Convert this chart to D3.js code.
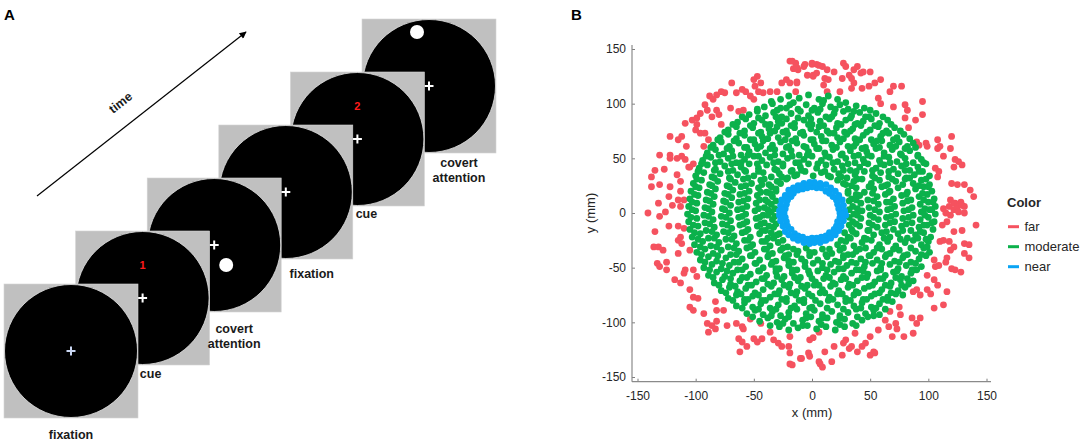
<!DOCTYPE html>
<html lang="en">
<head>
<meta charset="UTF-8">
<title>Covert attention task and target positions</title>
<style>
  body { margin: 0; background: #fff; }
  svg { display: block; font-family: "Liberation Sans", Arial, sans-serif; }
  .panel-label { font-size: 15px; font-weight: bold; fill: #000; }
  .frame-label { font-size: 12.5px; font-weight: bold; fill: #1a1a1a; }
  .axis text { font-size: 12px; fill: #262626; }
  .axis line { stroke: #7f7f7f; }
  .axis-line { stroke: #8a8a8a; stroke-width: 1.2px; }
  .axis-title { font-size: 13px; fill: #262626; }
  .legend-title { font-size: 15px; font-weight: bold; fill: #1a1a1a; }
  .legend text { font-size: 13px; fill: #262626; }
</style>
</head>
<body>
<svg id="chart" width="1084" height="443"></svg>
<script src="https://d3js.org/d3.v7.min.js"></script>
<script>
// ---- panel A: trial sequence ----
var frameNames = [["fixation"], ["cue"], ["covert", "attention"], ["fixation"], ["cue"], ["covert", "attention"]];
var cueNumbers = [null, "1", null, null, "2", null];

// ---- panel B: target positions (mm) ----
var tickValues = [-150, -100, -50, 0, 50, 100, 150];
var categories = ["far", "moderate", "near"];

var far = [
  [-19,139],[-14,137],[-7,134],[0,136],[4,136],[-16,132],[-12,131],[-4,126],[1,125],[-22,122],
  [-19,119],[-13,120],[-26,119],[-30,111],[-36,111],[-42,110],[-47,125],[-50,122],[-44,119],[-49,116],
  [-46,111],[-53,107],[-50,104],[-57,111],[-60,113],[-69,119],[-65,110],[-78,111],[-75,110],[-82,108],
  [-88,107],[-85,104],[-92,99],[-90,94],[-82,94],[-80,90],[-86,88],[-78,81],[-96,91],[-99,87],
  [-103,85],[-99,81],[-100,76],[-96,73],[-92,73],[-89,67],[-93,61],[-109,82],[-112,70],[-115,67],
  [-122,70],[-108,61],[-112,52],[-109,49],[-105,42],[-102,45],[-70,96],[-63,93],[-59,94],[-122,53],
  [-122,50],[-131,53],[-135,39],[-131,26],[-138,24],[-122,24],[-113,29],[-116,35],[-113,20],[-115,12],
  [-123,15],[-132,9],[-141,0],[-126,1],[-110,12],[-106,42],[-138,33],[-116,50],[-127,40],
  [-131,-3],[-120,7],[-113,6],[-123,-12],[-115,-12],[-110,-14],[-135,-17],[-113,-22],[-115,-25],[-112,-28],
  [-136,-31],[-132,-31],[-128,-34],[-115,-37],[-105,-34],[-133,-46],[-131,-49],[-125,-52],[-125,-45],[-109,-52],
  [-110,-55],[-118,-61],[-113,-64],[-102,-52],[-99,-58],[-105,-70],[-102,-77],[-98,-78],[-105,-86],[-102,-89],
  [-93,-92],[-90,-101],[-86,-103],[-82,-99],[-83,-106],[-89,-109],[-83,-81],[-82,-89],[-76,-89],[-73,-103],
  [-65,-101],[-60,-104],[-59,-106],[-63,-115],[-60,-118],[-56,-122],[-62,-127],[-50,-115],[-47,-118],[-43,-115],
  [-44,-101],[-36,-109],[-33,-116],[-29,-119],[-26,-122],[-19,-113],[-20,-122],[-19,-128],[-19,-138],[-17,-139],
  [-10,-133],[-3,-128],[-2,-116],[1,-114],[6,-109],[6,-136],[-53,-97],[-9,-133],[-2,-131],
  [7,-138],[9,-141],[11,-127],[17,-136],[19,-122],[26,-130],[27,-119],[29,-116],[32,-124],[34,-122],
  [39,-127],[37,-110],[43,-122],[46,-119],[50,-113],[53,-127],[54,-128],[50,-130],[57,-107],[63,-98],
  [66,-104],[69,-113],[72,-101],[73,-106],[76,-93],[79,-113],[86,-96],[90,-101],[93,-96],[87,-110],
  [75,-86],[67,-90],[87,-72],[90,-70],[93,-75],[99,-57],[99,-70],[102,-74],[105,-87],[113,-84],
  [116,-72],[108,-66],[105,-61],[106,-49],[109,-48],[115,-45],[116,-41],[120,-51],[123,-52],[128,-54],
  [105,-43],[119,-34],[122,-31],[113,-25],[118,-26],[131,-28],[135,-29],[131,-37],[135,-41],[129,-16],
  [141,-11],[122,-17],[116,-8],[119,-2],[122,3],[115,0],[118,6],[131,6],[128,10],[123,9],
  [112,-11],[110,-26],
  [-17,139],[-13,133],[-6,136],[0,137],[6,135],[9,134],[1,126],[4,128],[13,131],[11,123],
  [14,122],[19,129],[27,137],[29,134],[26,123],[32,126],[36,131],[39,134],[34,123],[36,119],
  [42,128],[44,129],[50,129],[43,114],[49,116],[54,119],[59,122],[34,114],[24,111],[10,117],
  [13,111],[-13,119],[-14,111],[57,105],[59,100],[67,111],[70,116],[77,116],[70,97],[80,99],
  [82,94],[95,102],[80,87],[89,85],[95,90],[83,78],[90,65],[92,62],[98,64],[99,61],
  [108,67],[120,70],[108,59],[110,61],[119,59],[113,52],[123,49],[126,47],[129,44],[122,42],
  [106,41],[109,38],[108,33],[120,27],[125,26],[131,26],[136,21],[139,15],[119,12],[122,9],
  [125,6],[113,4],[129,7],[126,1],[131,0]
];

var moderate = [
  [-27,104],[-20,107],[-11,105],[-3,108],[6,104],[14,107],[22,104],
  [-41,97],[-34,100],[-27,96],[-19,99],[-12,95],[-5,99],[2,96],[9,100],[16,97],[24,99],[31,95],[38,98],[45,96],
  [-54,90],[-47,93],[-40,89],[-33,92],[-26,88],[-18,91],[-10,93],[-3,89],[5,92],[12,88],[19,91],[27,93],[34,89],[41,92],[49,88],[55,91],
  [-64,83],[-57,86],[-50,82],[-43,85],[-36,81],[-29,84],[-22,86],[-15,82],[-7,85],[0,81],[7,84],[15,86],[22,82],[29,85],[37,81],[44,84],[51,86],[58,82],[65,85],
  [-72,76],[-65,79],[-58,75],[-51,78],[-44,74],[-37,77],[-30,79],[-22,75],[-15,78],[-8,74],[-1,77],[6,79],[13,75],[21,78],[28,74],[35,77],[42,80],[50,76],[57,79],[64,75],[71,78],
  [-79,69],[-72,72],[-65,68],[-58,71],[-50,67],[-43,70],[-36,73],[-29,69],[-21,72],[-14,68],[-7,71],[1,67],[8,70],[15,73],[22,69],[30,72],[37,68],[44,71],[51,67],[59,70],[66,73],[73,69],[79,72],
  [-85,62],[-78,65],[-71,61],[-63,64],[-56,60],[-49,63],[-42,66],[-34,62],[-27,65],[-20,61],[-13,64],[-5,60],[2,63],[9,66],[17,62],[24,65],[31,61],[38,64],[46,60],[53,63],[60,66],[67,62],[75,65],[82,61],[87,64],
  [-90,55],[-83,58],[-76,54],[-69,57],[-61,53],[-54,56],[-47,59],[-40,55],[-32,58],[-25,54],[-18,57],[-11,53],[-3,56],[4,59],[11,55],[18,58],[26,54],[33,57],[40,53],[47,56],[55,59],[62,55],[69,58],[76,54],[84,57],[91,53],
  [-94,48],[-87,51],[-79,47],[-72,50],[-65,46],[-58,49],[-50,52],[-43,48],[-36,51],[-29,47],[-21,50],[-14,46],[-7,49],[0,52],[8,48],[15,51],[22,47],[29,50],[37,46],[44,49],[51,52],[58,48],[66,51],[73,47],[80,50],[87,46],[94,49],
  [-97,41],[-90,44],[-83,40],[-75,43],[-68,39],[-61,42],[-54,45],[-46,41],[-39,44],[-32,40],[-25,43],[-17,39],[-10,42],[-3,45],[4,41],[12,44],[19,40],[26,43],[33,39],[41,42],[48,45],[55,41],[62,44],[70,40],[77,43],[84,39],[91,42],[98,45],
  [-100,34],[-93,37],[-86,33],[-79,36],[-71,32],[-64,35],[-57,38],[-50,34],[-42,37],[-35,33],[-28,36],[-21,32],[-13,35],[-6,38],[1,34],[8,37],[16,33],[23,36],[30,32],[37,35],[45,38],[52,34],[59,37],[66,33],[74,36],[81,32],[88,35],[95,38],[101,34],
  [-102,27],[-95,30],[-88,26],[-81,29],[-73,25],[-66,28],[-59,31],[-52,27],[-44,30],[-37,26],[-30,29],[-22,31],[22,30],[29,26],[36,29],[43,31],[51,27],[58,30],[65,26],[72,29],[80,31],[87,27],[94,30],[101,26],
  [-104,20],[-97,23],[-90,19],[-83,22],[-75,18],[-68,21],[-61,24],[-54,20],[-46,23],[-39,19],[-31,22],[31,20],[38,23],[45,19],[53,22],[60,24],[67,20],[74,23],[82,19],[89,22],[96,24],[103,20],
  [-105,13],[-98,16],[-91,12],[-84,15],[-76,11],[-69,14],[-62,17],[-55,13],[-47,16],[-40,12],[-34,15],[34,13],[41,16],[48,12],[56,15],[63,17],[70,13],[77,16],[85,12],[92,15],[99,17],[105,13],
  [-106,6],[-99,9],[-92,5],[-85,8],[-77,4],[-70,7],[-63,10],[-56,6],[-48,9],[-41,5],[-35,8],[35,6],[42,9],[49,5],[57,8],[64,10],[71,6],[78,9],[86,5],[93,8],[100,10],[106,6],
  [-107,-1],[-100,2],[-93,-2],[-86,1],[-78,-3],[-71,0],[-64,3],[-57,-1],[-49,2],[-42,-2],[-35,1],[36,-1],[43,2],[50,-2],[58,1],[65,3],[72,-1],[79,2],[87,-2],[94,1],[101,3],[106,-1],
  [-106,-8],[-99,-5],[-92,-9],[-85,-6],[-77,-10],[-70,-7],[-63,-4],[-56,-8],[-48,-5],[-41,-9],[-34,-6],[35,-8],[42,-5],[49,-9],[57,-6],[64,-4],[71,-8],[78,-5],[86,-9],[93,-6],[100,-4],[105,-8],
  [-105,-15],[-98,-12],[-91,-16],[-84,-13],[-76,-17],[-69,-14],[-62,-11],[-55,-15],[-47,-12],[-40,-16],[-33,-13],[34,-15],[41,-12],[48,-16],[56,-13],[63,-11],[70,-15],[77,-12],[85,-16],[92,-13],[99,-11],[104,-15],
  [-103,-22],[-96,-19],[-89,-23],[-82,-20],[-74,-24],[-67,-21],[-60,-18],[-53,-22],[-45,-19],[-38,-23],[-30,-20],[31,-22],[38,-19],[45,-23],[53,-20],[60,-18],[67,-22],[74,-19],[82,-23],[89,-20],[96,-18],[102,-22],
  [-101,-29],[-94,-26],[-87,-30],[-80,-27],[-72,-31],[-65,-28],[-58,-25],[-51,-29],[-43,-26],[-36,-30],[-29,-27],[-21,-31],[22,-29],[29,-26],[36,-30],[43,-27],[51,-25],[58,-29],[65,-26],[72,-30],[80,-27],[87,-25],[94,-29],[100,-26],
  [-99,-36],[-92,-33],[-85,-37],[-78,-34],[-70,-38],[-63,-35],[-56,-32],[-49,-36],[-41,-33],[-34,-37],[-27,-34],[-20,-38],[-12,-35],[-5,-32],[2,-36],[9,-33],[17,-37],[24,-34],[31,-38],[38,-35],[46,-32],[53,-36],[60,-33],[67,-37],[75,-34],[82,-38],[89,-35],[96,-32],[101,-36],
  [-96,-43],[-89,-40],[-82,-44],[-74,-41],[-67,-45],[-60,-42],[-53,-39],[-45,-43],[-38,-40],[-31,-44],[-24,-41],[-16,-45],[-9,-42],[-2,-39],[5,-43],[13,-40],[20,-44],[27,-41],[34,-45],[42,-42],[49,-39],[56,-43],[63,-40],[71,-44],[78,-41],[85,-45],[92,-42],[98,-39],
  [-93,-50],[-86,-47],[-78,-51],[-71,-48],[-64,-52],[-57,-49],[-49,-46],[-42,-50],[-35,-47],[-28,-51],[-20,-48],[-13,-52],[-6,-49],[1,-46],[9,-50],[16,-47],[23,-51],[30,-48],[38,-52],[45,-49],[52,-46],[59,-50],[67,-47],[74,-51],[81,-48],[88,-52],[94,-49],
  [-89,-57],[-82,-54],[-75,-58],[-68,-55],[-60,-59],[-53,-56],[-46,-53],[-39,-57],[-31,-54],[-24,-58],[-17,-55],[-10,-59],[-2,-56],[5,-53],[12,-57],[19,-54],[27,-58],[34,-55],[41,-52],[48,-56],[56,-53],[63,-57],[70,-54],[77,-58],[85,-55],[90,-52],
  [-84,-64],[-77,-61],[-70,-65],[-62,-62],[-55,-66],[-48,-63],[-41,-60],[-33,-64],[-26,-61],[-19,-65],[-12,-62],[-4,-66],[3,-63],[10,-60],[18,-64],[25,-61],[32,-65],[39,-62],[47,-59],[54,-63],[61,-60],[68,-64],[76,-61],[83,-65],[87,-62],
  [-78,-71],[-71,-68],[-64,-72],[-57,-69],[-49,-73],[-42,-70],[-35,-67],[-28,-71],[-20,-68],[-13,-72],[-6,-69],[2,-66],[9,-70],[16,-67],[23,-71],[31,-68],[38,-72],[45,-69],[52,-66],[60,-70],[67,-67],[74,-71],[80,-68],
  [-72,-78],[-65,-75],[-58,-79],[-51,-76],[-43,-80],[-36,-77],[-29,-74],[-22,-78],[-14,-75],[-7,-79],[0,-76],[7,-73],[15,-77],[22,-74],[29,-78],[36,-75],[44,-79],[51,-76],[58,-73],[65,-77],[72,-74],
  [-65,-85],[-58,-82],[-51,-86],[-44,-83],[-36,-87],[-29,-84],[-22,-81],[-15,-85],[-7,-82],[0,-86],[7,-83],[14,-80],[22,-84],[29,-81],[36,-85],[43,-82],[51,-86],[58,-83],[65,-80],
  [-56,-92],[-49,-89],[-42,-93],[-34,-90],[-27,-94],[-20,-91],[-13,-88],[-5,-92],[2,-89],[9,-93],[17,-90],[24,-94],[31,-91],[38,-88],[46,-92],[53,-89],[58,-93],
  [-45,-99],[-38,-96],[-30,-100],[-23,-97],[-16,-101],[-8,-98],[-1,-95],[6,-99],[13,-96],[21,-100],[28,-97],[35,-101],[43,-98],[48,-95],
  [-28,-104],[-20,-107],[-12,-105],[-4,-103],[4,-106],[12,-104],[20,-107],[28,-104],
  // second pass, between the rows
  [-35,102],[-16,101],[10,103],[29,101],
  [-47,95],[-30,94],[-22,96],[0,94],[7,95],[20,95],[36,93],[50,94],
  [-60,88],[-46,87],[-31,88],[-12,87],[-1,86],[17,88],[33,87],[46,88],[61,88],
  [-68,81],[-53,80],[-40,81],[-26,82],[-18,80],[-3,81],[10,80],[25,81],[39,82],[54,80],[68,81],
  [-75,74],[-62,73],[-46,73],[-32,75],[-25,74],[-10,73],[4,74],[19,73],[33,75],[47,74],[61,73],[76,75],
  [-81,67],[-67,66],[-53,67],[-38,68],[-23,67],[-17,66],[-1,67],[12,66],[27,68],[41,67],[56,66],[70,67],[84,68],
  [-87,60],[-73,59],[-58,60],[-44,61],[-36,59],[-22,60],[-7,61],[6,59],[21,60],[36,61],[43,59],[58,60],[72,61],[80,59],[89,60],
  [-91,52],[-80,53],[-68,52],[-55,53],[-46,52],[-32,53],[-17,52],[-4,53],[12,52],[25,53],[36,52],[48,53],[62,52],[77,53],[91,52],
  [-95,45],[-83,46],[-69,45],[-61,46],[-47,45],[-33,46],[-25,45],[-11,46],[5,45],[18,46],[31,45],[45,46],[59,45],[67,46],[81,45],[96,46],
  [-98,38],[-84,39],[-72,38],[-58,39],[-46,38],[-30,39],[-18,38],[-9,39],[11,38],[27,39],[38,38],[52,39],[66,38],[80,39],[92,38],
  [-99,31],[-84,32],[-70,31],[-55,32],[-41,31],[-26,33],[-15,34],[14,34],[25,33],[39,31],[54,32],[69,31],[84,32],[98,31],
  [-100,24],[-86,25],[-71,24],[-57,25],[-43,26],[-35,24],[-27,27],[27,27],[34,25],[49,24],[63,25],[78,26],[92,25],[100,24],
  [-101,17],[-87,18],[-72,17],[-58,18],[-44,19],[-36,18],[-31,20],[31,18],[38,17],[52,18],[66,19],[81,17],[95,18],
  [-103,10],[-88,11],[-74,10],[-59,11],[-45,12],[-38,10],[-31,11],[32,11],[38,12],[53,11],[67,10],[82,11],[96,12],[104,10],
  [-103,3],[-89,4],[-75,3],[-60,4],[-46,4],[-38,3],[-32,4],[32,3],[39,4],[54,3],[68,4],[83,3],[97,4],[103,3],
  [-104,-4],[-89,-3],[-74,-4],[-60,-3],[-45,-4],[-38,-2],[-32,-3],[32,-4],[39,-2],[53,-4],[68,-3],[83,-4],[97,-2],
  [-102,-11],[-88,-10],[-73,-11],[-59,-10],[-44,-10],[-37,-12],[-31,-10],[32,-11],[38,-10],[52,-11],[67,-9],[81,-10],[96,-11],[103,-9],
  [-101,-18],[-86,-17],[-72,-18],[-57,-17],[-43,-16],[-35,-18],[-28,-19],[28,-18],[35,-17],[49,-16],[64,-17],[78,-16],[93,-17],
  [-98,-24],[-84,-23],[-69,-24],[-55,-25],[-40,-26],[-33,-23],[-25,-25],[25,-25],[33,-23],[47,-24],[62,-23],[76,-24],[91,-23],[98,-24],
  [-96,-31],[-82,-31],[-67,-32],[-53,-31],[-39,-33],[-25,-32],[-16,-33],[15,-33],[27,-32],[41,-33],[56,-32],[70,-33],[85,-32],[99,-31],
  [-95,-38],[-81,-39],[-65,-38],[-52,-39],[-37,-38],[-23,-39],[-13,-38],[-2,-36],[12,-38],[27,-39],[35,-38],[50,-39],[64,-38],[79,-39],[94,-38],
  [-92,-45],[-77,-46],[-63,-45],[-48,-46],[-34,-45],[-20,-44],[-6,-45],[9,-46],[23,-45],[38,-46],[46,-45],[60,-46],[75,-45],[89,-46],
  [-88,-52],[-73,-53],[-60,-52],[-45,-53],[-31,-51],[-17,-52],[-3,-53],[13,-52],[27,-51],[44,-53],[59,-52],[73,-53],[86,-52],
  [-85,-59],[-70,-60],[-56,-59],[-43,-60],[-30,-58],[-15,-59],[0,-60],[15,-59],[29,-60],[43,-59],[58,-60],[72,-59],[82,-60],
  [-80,-66],[-66,-67],[-52,-66],[-38,-65],[-24,-66],[-9,-67],[6,-66],[20,-65],[35,-66],[49,-67],[63,-66],[77,-66],
  [-74,-73],[-61,-74],[-46,-75],[-32,-74],[-18,-73],[-3,-74],[11,-73],[26,-74],[40,-73],[54,-74],[68,-73],[78,-75],
  [-68,-80],[-55,-79],[-40,-80],[-26,-79],[-11,-80],[3,-80],[18,-79],[33,-80],[47,-79],[61,-79],[69,-81],
  [-60,-87],[-46,-88],[-31,-88],[-18,-87],[-2,-87],[13,-87],[27,-88],[42,-87],[55,-87],[63,-88],
  [-51,-95],[-35,-94],[-20,-95],[-5,-96],[9,-96],[24,-96],[39,-95],[53,-94],
  [-36,-103],[-25,-101],[-8,-103],[8,-102],[24,-102],[38,-103]
];

var near = [
  [24,0],[23,4],[22,8],[21,12],[18,15],[15,18],[12,20],[8,23],[4,23],[0,24],[-4,23],[-8,22],
  [-12,21],[-16,18],[-18,15],[-21,12],[-22,8],[-23,4],[-24,0],[-23,-4],[-22,-8],[-21,-12],[-18,-15],[-15,-19],
  [-12,-21],[-8,-22],[-4,-24],[0,-23],[4,-23],[8,-22],[12,-21],[15,-18],[19,-15],[21,-12],[22,-8],[24,-4],
  [28,2],[27,7],[26,12],[23,16],[20,20],[16,23],[12,26],[7,27],[2,28],[-2,28],[-7,27],[-12,25],
  [-16,23],[-20,21],[-23,16],[-26,12],[-27,7],[-28,2],[-28,-2],[-27,-7],[-25,-12],[-23,-17],[-20,-20],[-16,-23],
  [-12,-25],[-7,-27],[-2,-28],[2,-27],[7,-27],[12,-25],[16,-23],[20,-20],[23,-16],[25,-12],[27,-7],[29,-2],
  [26,-1],[-26,3],[10,-25],[-9,25],[19,-18],[-19,18]
];

var colors = ["#f5525f", "#0bb14b", "#0aa4f4"];

var svg = d3.select("#chart");

// ---------------- panel A ----------------
var fx = d3.scaleLinear().domain([0, 5]).range([71, 429]);
var fy = d3.scaleLinear().domain([0, 5]).range([351, 86]);
var half = 67;
// label offsets from each frame centre, and target dot offsets
var labelOffsets = [[0, 88], [8, 79.5], [20, 88], [26, 86], [9, 79], [30, 81]];
var targetOffsets = [null, null, [12, 20], null, null, [-12, -54]];

svg.append("text").attr("class", "panel-label").attr("x", 4).attr("y", 20).text("A");

// time arrow
svg.append("defs").append("marker")
  .attr("id", "head").attr("viewBox", "0 0 10 10")
  .attr("refX", 9).attr("refY", 5)
  .attr("markerWidth", 9).attr("markerHeight", 7)
  .attr("markerUnits", "userSpaceOnUse")
  .attr("orient", "auto")
  .append("path").attr("d", "M0,0 L10,5 L0,10 z").attr("fill", "#000");

svg.append("line")
  .attr("x1", 37).attr("y1", 196).attr("x2", 246).attr("y2", 32)
  .attr("stroke", "#000").attr("stroke-width", 1.2)
  .attr("marker-end", "url(#head)");

svg.append("text").attr("class", "frame-label")
  .attr("transform", "translate(123,106) rotate(-38)")
  .attr("text-anchor", "middle")
  .text("time");

var frames = svg.append("g");
d3.range(frameNames.length).reverse().forEach(function(i) {
  var cx = fx(i), cy = fy(i);
  var g = frames.append("g");
  g.append("rect")
    .attr("x", cx - half).attr("y", cy - half)
    .attr("width", half * 2).attr("height", half * 2)
    .attr("fill", "#c0c0c0").attr("stroke", "#d4d4d4").attr("stroke-width", 0.6);
  g.append("circle")
    .attr("cx", cx).attr("cy", cy).attr("r", half - 0.5)
    .attr("fill", "#000").attr("stroke", "#e6e6e6").attr("stroke-width", 0.8);
  var crossColor = i === 0 ? "#c9d6f2" : "#fff";
  g.append("path")
    .attr("d", "M" + (cx - 4.5) + "," + cy + "H" + (cx + 4.5) + "M" + cx + "," + (cy - 4.5) + "V" + (cy + 4.5))
    .attr("stroke", crossColor).attr("stroke-width", 2);
  if (cueNumbers[i]) {
    g.append("text")
      .attr("x", cx).attr("y", cy - 29)
      .attr("text-anchor", "middle")
      .attr("font-size", 11).attr("font-weight", "bold")
      .attr("fill", "#ff1a1a")
      .text(cueNumbers[i]);
  }
  if (targetOffsets[i]) {
    g.append("circle")
      .attr("cx", cx + targetOffsets[i][0]).attr("cy", cy + targetOffsets[i][1])
      .attr("r", 7).attr("fill", "#fff");
  }
  var t = svg.append("text").attr("class", "frame-label").attr("text-anchor", "middle");
  frameNames[i].forEach(function(line, k) {
    t.append("tspan")
      .attr("x", cx + labelOffsets[i][0])
      .attr("y", cy + labelOffsets[i][1] + k * 15)
      .text(line);
  });
});

// ---------------- panel B ----------------
svg.append("text").attr("class", "panel-label").attr("x", 571).attr("y", 20).text("B");

var x = d3.scaleLinear().domain([-150, 150]).range([637.5, 986.5]);
var y = d3.scaleLinear().domain([-150, 150]).range([377, 49]);
var axisY0 = 381.7, axisX0 = 632;

var xAxis = d3.axisBottom(x).tickValues(tickValues).tickFormat(String).tickSize(-3).tickPadding(10);
var yAxis = d3.axisLeft(y).tickValues(tickValues).tickFormat(String).tickSize(-3).tickPadding(6);

var gx = svg.append("g").attr("class", "axis").attr("transform", "translate(0," + axisY0 + ")").call(xAxis);
var gy = svg.append("g").attr("class", "axis").attr("transform", "translate(" + axisX0 + ",0)").call(yAxis);
gx.select(".domain").remove();
gy.select(".domain").remove();

svg.append("line").attr("class", "axis-line")
  .attr("x1", axisX0).attr("x2", 991).attr("y1", axisY0).attr("y2", axisY0);
svg.append("line").attr("class", "axis-line")
  .attr("x1", axisX0).attr("x2", axisX0).attr("y1", 45).attr("y2", axisY0);

svg.append("text").attr("class", "axis-title")
  .attr("x", x(0)).attr("y", 417).attr("text-anchor", "middle").text("x (mm)");
svg.append("text").attr("class", "axis-title")
  .attr("transform", "translate(595," + y(0) + ") rotate(-90)")
  .attr("text-anchor", "middle").text("y (mm)");

var series = [far, moderate, near];
var dots = svg.append("g");
series.forEach(function(pts, k) {
  dots.append("g").selectAll("circle")
    .data(pts).enter().append("circle")
    .attr("cx", function(d) { return x(d[0]); })
    .attr("cy", function(d) { return y(d[1]); })
    .attr("r", 3.4)
    .attr("fill", colors[k]);
});

// legend
var legend = svg.append("g").attr("class", "legend");
legend.append("text").attr("class", "legend-title").attr("x", 1007).attr("y", 206.5).text("Color");
categories.forEach(function(c, k) {
  var ly = 226.7 + k * 20;
  legend.append("line")
    .attr("x1", 1008).attr("x2", 1019).attr("y1", ly).attr("y2", ly)
    .attr("stroke", colors[k]).attr("stroke-width", 3);
  legend.append("text").attr("x", 1024.5).attr("y", ly).attr("dy", "0.35em").text(c);
});
</script>
</body>
</html>
